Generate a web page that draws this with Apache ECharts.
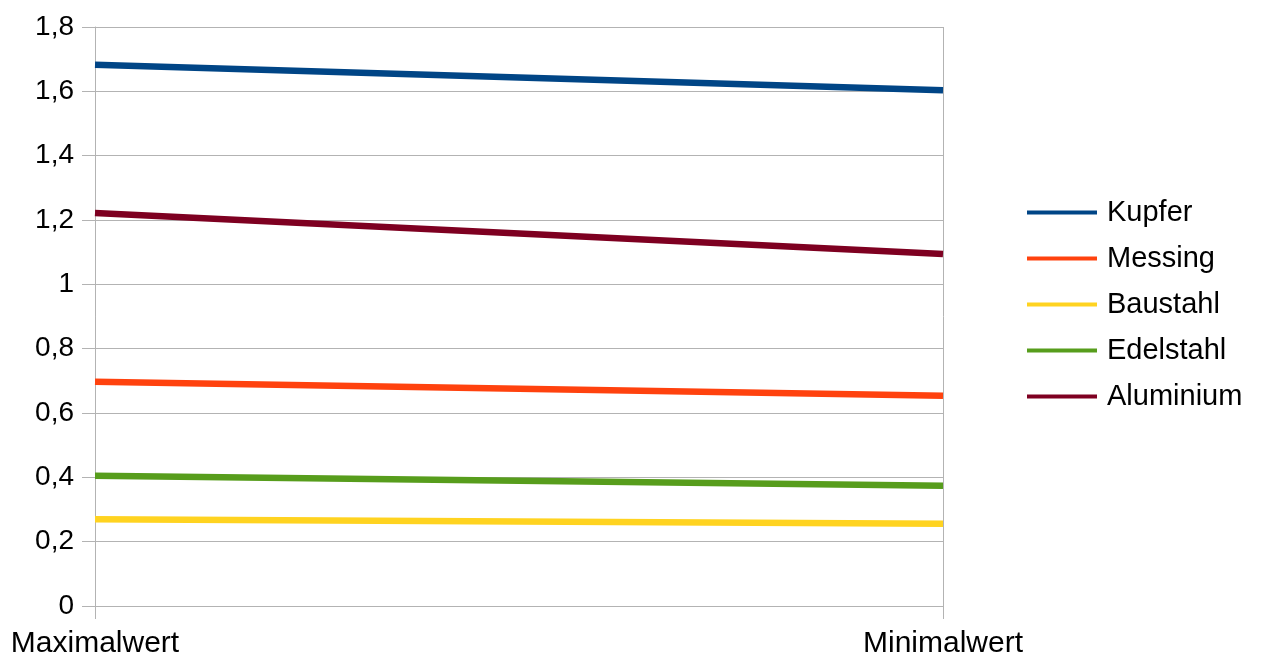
<!DOCTYPE html>
<html>
<head>
<meta charset="utf-8">
<script src="https://cdn.jsdelivr.net/npm/echarts@6/dist/echarts.min.js"></script>
<style>html,body{margin:0;padding:0;background:#fff}#c{width:1262px;height:659px}</style>
</head>
<body>
<div id="c"></div>
<script>
const categories = ['Maximalwert', 'Minimalwert'];
const kupfer = [1.683, 1.603];
const messing = [0.697, 0.654];
const baustahl = [0.270, 0.256];
const edelstahl = [0.405, 0.374];
const aluminium = [1.222, 1.094];
const seriesNames = ['Kupfer', 'Messing', 'Baustahl', 'Edelstahl', 'Aluminium'];
const seriesData = [kupfer, messing, baustahl, edelstahl, aluminium];
const colors = ['#004586', '#ff420e', '#ffd320', '#579d1c', '#7e0021'];

const font = 'Liberation Sans, Arial, sans-serif';
const chart = echarts.init(document.getElementById('c'));
chart.setOption({
  animation: false,
  backgroundColor: '#ffffff',
  grid: { left: 95, right: 319, top: 27, bottom: 53, containLabel: false },
  legend: {
    orient: 'vertical',
    left: 1027,
    top: 198,
    padding: 0,
    icon: 'rect',
    itemWidth: 70,
    itemHeight: 4,
    itemGap: 17,
    textStyle: { fontFamily: font, fontSize: 29, color: '#000', lineHeight: 28, padding: [0, 0, 0, 5] },
    data: seriesNames
  },
  xAxis: {
    type: 'category',
    data: categories,
    boundaryGap: false,
    axisLine: { show: true, lineStyle: { color: '#b3b3b3', width: 1 } },
    axisTick: { show: true, length: 13, lineStyle: { color: '#b3b3b3' } },
    splitLine: { show: true, lineStyle: { color: '#b3b3b3', width: 1 } },
    axisLabel: { fontFamily: font, fontSize: 30, color: '#000', margin: 23 }
  },
  yAxis: {
    type: 'value',
    min: 0,
    max: 1.8,
    interval: 0.2,
    axisLine: { show: true, lineStyle: { color: '#b3b3b3', width: 1 } },
    axisTick: { show: true, length: 13, lineStyle: { color: '#b3b3b3' } },
    splitLine: { show: true, lineStyle: { color: '#b3b3b3', width: 1 } },
    axisLabel: {
      fontFamily: font, fontSize: 28, color: '#000', margin: 21,
      padding: [10, 0, 0, 0],
      formatter: v => String(+v.toFixed(1)).replace('.', ',')
    }
  },
  series: seriesNames.map((n, i) => ({
    name: n,
    type: 'line',
    data: seriesData[i],
    showSymbol: false,
    symbol: 'none',
    color: colors[i],
    lineStyle: { width: 6.5, color: colors[i] },
    itemStyle: { color: colors[i] }
  }))
});
</script>
</body>
</html>
